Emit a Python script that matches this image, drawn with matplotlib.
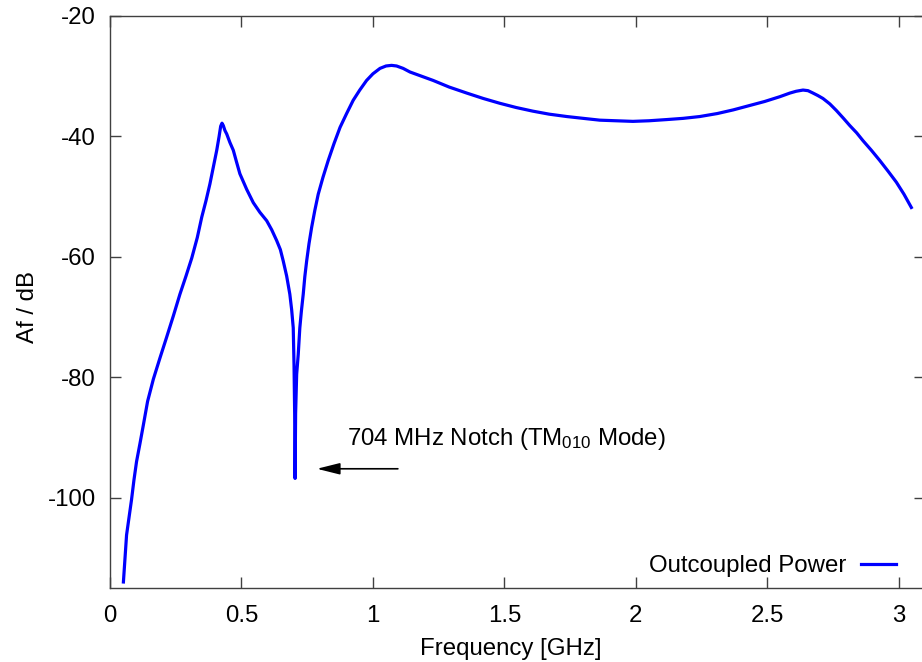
import numpy as np
import matplotlib
matplotlib.use('Agg')
import matplotlib.pyplot as plt

plt.rcParams['font.family'] = ['Liberation Sans', 'DejaVu Sans']
plt.rcParams['mathtext.fontset'] = 'custom'
plt.rcParams['mathtext.rm'] = 'Liberation Sans'
plt.rcParams['mathtext.it'] = 'Liberation Sans:italic'
plt.rcParams['axes.unicode_minus'] = False

# frequency in GHz, outcoupled power in dB
freq = [0.051, 0.057, 0.063, 0.072, 0.082, 0.091, 0.101, 0.114, 0.127, 0.143,
        0.165, 0.190, 0.215, 0.241, 0.266, 0.289, 0.311, 0.332, 0.349, 0.365,
        0.380, 0.393, 0.406, 0.415, 0.421, 0.426, 0.431, 0.437, 0.444, 0.456,
        0.469, 0.481, 0.494, 0.520, 0.545, 0.570, 0.596, 0.615, 0.634, 0.648,
        0.659, 0.672, 0.684, 0.691, 0.697, 0.700, 0.703, 0.704, 0.706, 0.710,
        0.716, 0.722, 0.728, 0.735, 0.741, 0.748, 0.757, 0.767, 0.779, 0.792,
        0.810, 0.830, 0.852, 0.875, 0.900, 0.925, 0.950, 0.976, 1.000, 1.027,
        1.050, 1.071, 1.090, 1.115, 1.141, 1.185, 1.229, 1.290, 1.357, 1.420,
        1.483, 1.545, 1.608, 1.670, 1.738, 1.800, 1.863, 1.925, 1.989, 2.050,
        2.118, 2.180, 2.243, 2.310, 2.370, 2.430, 2.490, 2.548, 2.586, 2.610,
        2.636, 2.655, 2.674, 2.692, 2.712, 2.738, 2.763, 2.790, 2.814, 2.840,
        2.864, 2.896, 2.928, 2.960, 2.991, 3.020, 3.048]
power = [-114.0, -110.1, -106.2, -103.4, -100.3, -97.1, -94.0, -91.0, -87.9, -84.0,
         -80.3, -76.8, -73.4, -69.8, -66.2, -63.2, -60.2, -56.8, -53.4, -50.7,
         -47.9, -45.1, -42.3, -40.0, -38.3, -37.8, -38.2, -39.0, -39.6, -41.0,
         -42.3, -44.2, -46.2, -48.8, -51.0, -52.6, -54.0, -55.5, -57.3, -58.8,
         -60.7, -63.2, -66.2, -68.8, -71.8, -78.0, -88.0, -96.8, -86.0, -79.5,
         -76.2, -71.8, -69.0, -66.2, -63.3, -60.7, -57.8, -55.1, -52.3, -49.6,
         -46.8, -44.0, -41.2, -38.5, -36.2, -34.0, -32.3, -30.7, -29.6, -28.7,
         -28.3, -28.2, -28.3, -28.7, -29.3, -30.0, -30.7, -31.8, -32.8, -33.7,
         -34.5, -35.2, -35.8, -36.3, -36.7, -37.0, -37.3, -37.4, -37.5, -37.4,
         -37.2, -37.0, -36.7, -36.2, -35.6, -34.9, -34.2, -33.4, -32.8, -32.5,
         -32.3, -32.4, -32.8, -33.2, -33.7, -34.6, -35.7, -37.0, -38.2, -39.4,
         -40.7, -42.3, -44.0, -45.8, -47.6, -49.6, -51.8]

xticks = [0, 0.5, 1, 1.5, 2, 2.5, 3]
xticklabels = ['0', '0.5', '1', '1.5', '2', '2.5', '3']
yticks = [-100, -80, -60, -40, -20]

FS = 17.3
W, H = 922, 662
fig = plt.figure(figsize=(W / 100, H / 100), dpi=100)
ax = fig.add_axes([110 / W, (H - 588) / H, (925 - 110) / W, (588 - 16) / H])

ax.plot(np.array(freq), np.array(power), color='#0000ff', lw=2.3,
        label='Outcoupled Power')

ax.set_xlim(0, 3.1)
ax.set_ylim(-115, -20)
ax.set_xticks(xticks)
ax.set_xticklabels(xticklabels)
ax.set_yticks(yticks)
ax.tick_params(direction='in', length=8, width=1, color='#404040',
               labelsize=FS, top=True, right=True)
ax.tick_params(axis='y', pad=10)
ax.tick_params(axis='x', pad=12)
for s in ax.spines.values():
    s.set_color('#404040')
    s.set_linewidth(1)

ax.set_xlabel('Frequency [GHz]', fontsize=FS, va='center')
ax.xaxis.set_label_coords(0.492, -0.107)
ax.set_ylabel('Af / dB', fontsize=FS, va='center')
ax.yaxis.set_label_coords(-0.1006, 0.491)

ax.annotate('', xy=(0.787, -95.2), xytext=(1.095, -95.2),
            arrowprops=dict(arrowstyle='-|>,head_length=1.4,head_width=0.35',
                            color='black', lw=1.2, shrinkA=0, shrinkB=0,
                            mutation_scale=10))
ax.text(0.901, -91.2, '704 MHz Notch (TM$_{010}$ Mode)', fontsize=FS,
        va='baseline', ha='left')

ax.legend(loc='lower right', bbox_to_anchor=((896 - 110) / 815, (588 - 577) / 572),
          frameon=False, fontsize=FS, markerfirst=False, handlelength=1.45,
          handletextpad=0.6, borderpad=0, borderaxespad=0)

fig.savefig('out.png', dpi=100)
